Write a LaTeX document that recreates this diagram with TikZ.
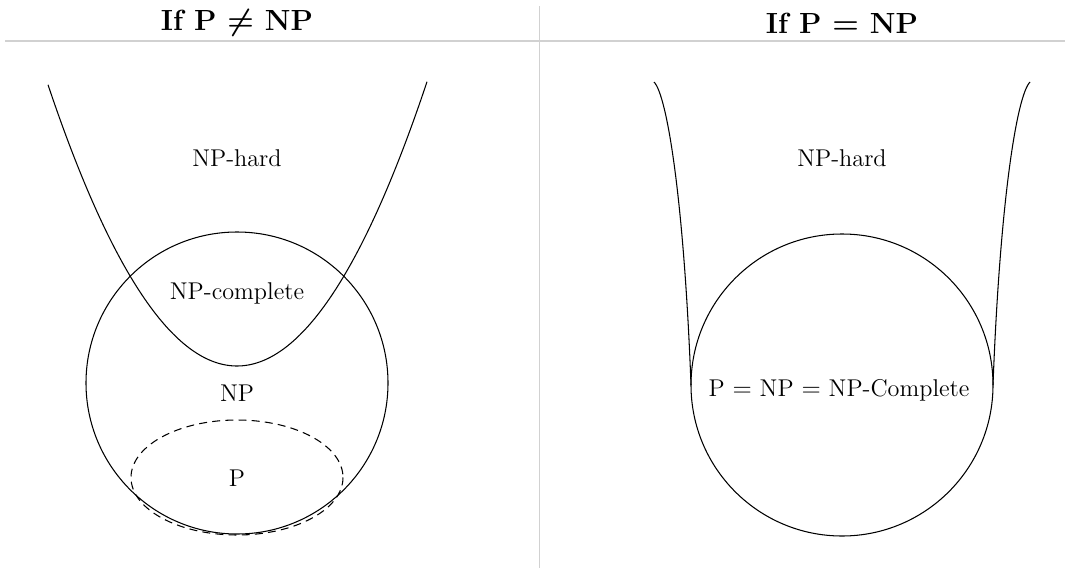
\documentclass[tikz,border=0pt]{standalone}
\begin{document}
\begin{tikzpicture}[x=0.02cm, y=-0.02cm,
    rule/.style={draw=black!18, line width=0.7pt},
    curve/.style={line width=0.6pt},
    lbl/.style={font=\fontsize{13.8}{16}\selectfont},
    ttl/.style={font=\fontsize{16.6}{20}\selectfont\bfseries\boldmath}]
    \useasboundingbox (0,0) rectangle (1065,568);
    % table rules
    \draw[rule] (539.5,6) -- (539.5,568);
    \draw[rule] (5,41) -- (1065,41);
    \node[ttl] (ttlneq) at (237,23) {If P $\neq$ NP};
    \node[ttl] (ttleq) at (842,23) {If P $=$ NP};
    % P != NP
    \draw[curve] (237,383) circle [radius=151];
    \draw[curve, domain=48:427, smooth, samples=80, variable=\x] plot ({\x}, {366-0.00787*(\x-237)*(\x-237)});
    \draw[curve, dash pattern=on 4.5pt off 3pt] (237,477.5) ellipse [x radius=106, y radius=57.5];
    \node[lbl] (hardl) at (237,158) {NP-hard};
    \node[lbl] (compl) at (237,293) {NP-complete};
    \node[lbl] (npl) at (237,393) {NP};
    \node[lbl] (pl) at (237,478) {P};
    % P = NP
    \draw[curve] (842,385) circle [radius=151];
    \draw[curve] (993,385) .. controls (1000,200) and (1017,95) .. (1030,82);
    \draw[curve] (691,385) .. controls (684,200) and (667,95) .. (654,82);
    \node[lbl] (hardr) at (842,158) {NP-hard};
    \node[lbl] (allr) at (839,390) {P $=$ NP $=$ NP-Complete};
\end{tikzpicture}
\end{document}
